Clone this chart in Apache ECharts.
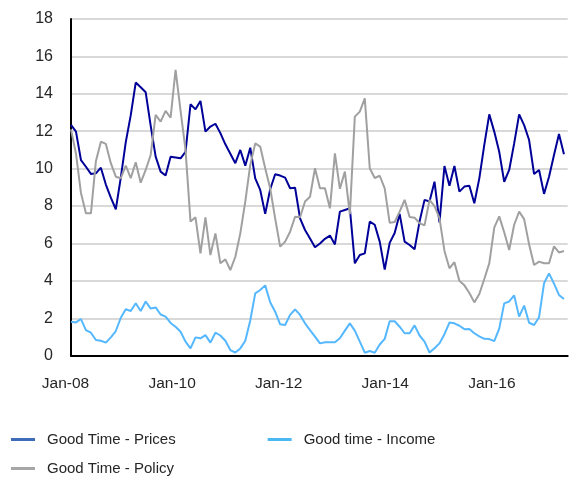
<!DOCTYPE html>
<html>
<head>
<meta charset="utf-8">
<script src="https://cdn.jsdelivr.net/npm/echarts@6/dist/echarts.min.js"></script>
<style>
  html, body { margin: 0; padding: 0; background: #ffffff; }
  #chart { width: 586px; height: 480px; }
</style>
</head>
<body>
<div id="chart"></div>
<script>
// Survey share citing each reason as a "good time" (per cent), one value per period
const tickLabels = ['Jan-08', 'Jan-10', 'Jan-12', 'Jan-14', 'Jan-16'];
const seriesNames = ['Good Time - Prices', 'Good time - Income', 'Good Time - Policy'];

const prices = [
  12.34, 11.98, 10.46, 10.1, 9.72, 9.75, 10.05, 9.15, 8.45, 7.83,
  9.52, 11.42, 12.86, 14.6, 14.35, 14.08, 12.3, 10.64, 9.84, 9.63,
  10.64, 10.6, 10.55, 10.9, 13.44, 13.17, 13.62, 11.98, 12.25, 12.4,
  11.9, 11.3, 10.8, 10.29, 11.0, 10.16, 11.12, 9.48, 8.86, 7.58,
  8.9, 9.7, 9.63, 9.52, 8.95, 8.98, 7.34, 6.72, 6.27, 5.8,
  6.0, 6.25, 6.42, 5.95, 7.7, 7.79, 7.88, 4.94, 5.38, 5.47,
  7.17, 7.0, 6.1, 4.6, 6.03, 6.56, 7.58, 6.1, 5.92, 5.69,
  7.17, 8.33, 8.24, 9.3, 7.13, 10.14, 9.09, 10.14, 8.77, 9.04,
  9.09, 8.15, 9.48, 11.27, 12.9, 11.98, 10.9, 9.3, 9.93, 11.35,
  12.9, 12.33, 11.53, 9.71, 9.93, 8.65, 9.57, 10.73, 11.85, 10.77
];

const income = [
  1.82, 1.78, 1.96, 1.37, 1.23, 0.84, 0.8, 0.7, 0.98, 1.32,
  2.03, 2.48, 2.39, 2.8, 2.39, 2.9, 2.52, 2.58, 2.2, 2.09,
  1.75, 1.55, 1.28, 0.75, 0.39, 0.98, 0.93, 1.1, 0.7, 1.23,
  1.08, 0.8, 0.3, 0.17, 0.39, 0.8, 1.88, 3.33, 3.51, 3.76,
  2.86, 2.35, 1.68, 1.64, 2.18, 2.48, 2.18, 1.73, 1.37, 1.02,
  0.66, 0.72, 0.72, 0.72, 0.93, 1.34, 1.73, 1.34, 0.75, 0.16,
  0.25, 0.16, 0.6, 0.9, 1.84, 1.84, 1.55, 1.2, 1.2, 1.62,
  1.08, 0.75, 0.17, 0.4, 0.66, 1.15, 1.77, 1.73, 1.6, 1.42,
  1.43, 1.2, 1.03, 0.9, 0.89, 0.78, 1.45, 2.8, 2.9, 3.22,
  2.09, 2.68, 1.76, 1.64, 2.06, 3.87, 4.4, 3.85, 3.25, 3.03
];

const policy = [
  12.1, 10.8, 8.7, 7.61, 7.61, 10.4, 11.44, 11.32, 10.29, 9.57,
  9.49, 10.16, 9.49, 10.34, 9.25, 9.93, 10.73, 12.87, 12.51, 13.09,
  12.72, 15.28, 13.1, 11.0, 7.17, 7.4, 5.47, 7.4, 5.38, 6.54,
  4.94, 5.15, 4.58, 5.29, 6.54, 8.24, 10.2, 11.35, 11.18, 10.02,
  8.95, 7.34, 5.83, 6.1, 6.63, 7.43, 7.4, 8.24, 8.5, 10.02,
  8.95, 8.95, 7.88, 10.82, 8.92, 9.84, 7.56, 12.78, 13.05, 13.76,
  10.02, 9.5, 9.62, 8.95, 7.1, 7.15, 7.7, 8.33, 7.42, 7.38,
  7.08, 6.97, 8.33, 8.0, 7.35, 5.6, 4.67, 5.0, 4.0, 3.76,
  3.35, 2.85, 3.3, 4.1, 4.94, 6.85, 7.45, 6.6, 5.65, 7.0,
  7.7, 7.3, 5.95, 4.85, 5.03, 4.94, 4.94, 5.85, 5.52, 5.6
];

const FONT = "'Liberation Sans', Arial, sans-serif";
const TEXT = '#262626';

const lineColors = ['#000099', '#55b8ff', '#a0a0a0'];
const keyColors = ['#3f6cb8', '#4cb8f2', '#a6a6a6'];

const asPoints = arr => arr.map((v, i) => [i, v]);

const chart = echarts.init(document.getElementById('chart'), null, { renderer: 'canvas' });

const legendBase = {
  left: 11, orient: 'horizontal', selectedMode: false, padding: 0,
  icon: 'rect', itemWidth: 24, itemHeight: 3,
  textStyle: { fontSize: 15, color: TEXT, fontFamily: FONT, padding: [0, 0, 0, 7] }
};

chart.setOption({
  animation: false,
  backgroundColor: '#ffffff',
  grid: { left: 71, right: 18.3, top: 19, bottom: 124.3, containLabel: false },
  xAxis: [
    {
      // period index axis that places the lines
      type: 'value', min: 0, max: 99.75,
      axisLine: { show: true, onZero: false, lineStyle: { color: '#000000', width: 2 } },
      axisTick: { show: false }, axisLabel: { show: false }, splitLine: { show: false }
    },
    {
      // month axis that carries the date labels (every 24 months)
      type: 'value', position: 'bottom', min: 0, max: 111.84, interval: 24,
      axisLine: { show: false }, axisTick: { show: false }, splitLine: { show: false },
      axisLabel: {
        show: true, margin: 20, fontSize: 15.5, color: TEXT, fontFamily: FONT,
        padding: [0, 11, 0, 0], showMaxLabel: false,
        formatter: v => (v % 24 === 0 && tickLabels[v / 24]) ? tickLabels[v / 24] : ''
      }
    }
  ],
  yAxis: {
    type: 'value', min: 0, max: 18, interval: 2,
    axisLine: { show: true, lineStyle: { color: '#000000', width: 2 } },
    axisTick: { show: false },
    axisLabel: { margin: 18, fontSize: 16, color: TEXT, fontFamily: FONT },
    splitLine: { show: true, lineStyle: { color: '#d9d9d9', width: 2 } }
  },
  legend: [
    Object.assign({}, legendBase, {
      top: 432, itemGap: 92,
      data: [
        { name: seriesNames[0], itemStyle: { color: keyColors[0] } },
        { name: seriesNames[1], itemStyle: { color: keyColors[1] } }
      ]
    }),
    Object.assign({}, legendBase, {
      top: 461,
      data: [
        { name: seriesNames[2], itemStyle: { color: keyColors[2] } }
      ]
    })
  ],
  series: [
    { name: seriesNames[0], data: asPoints(prices), color: lineColors[0] },
    { name: seriesNames[1], data: asPoints(income), color: lineColors[1] },
    { name: seriesNames[2], data: asPoints(policy), color: lineColors[2] }
  ].map(s => Object.assign({
    type: 'line', xAxisIndex: 0, yAxisIndex: 0,
    symbol: 'none', smooth: false,
    lineStyle: { width: 2, color: s.color },
    itemStyle: { color: s.color }
  }, s))
});
</script>
</body>
</html>
